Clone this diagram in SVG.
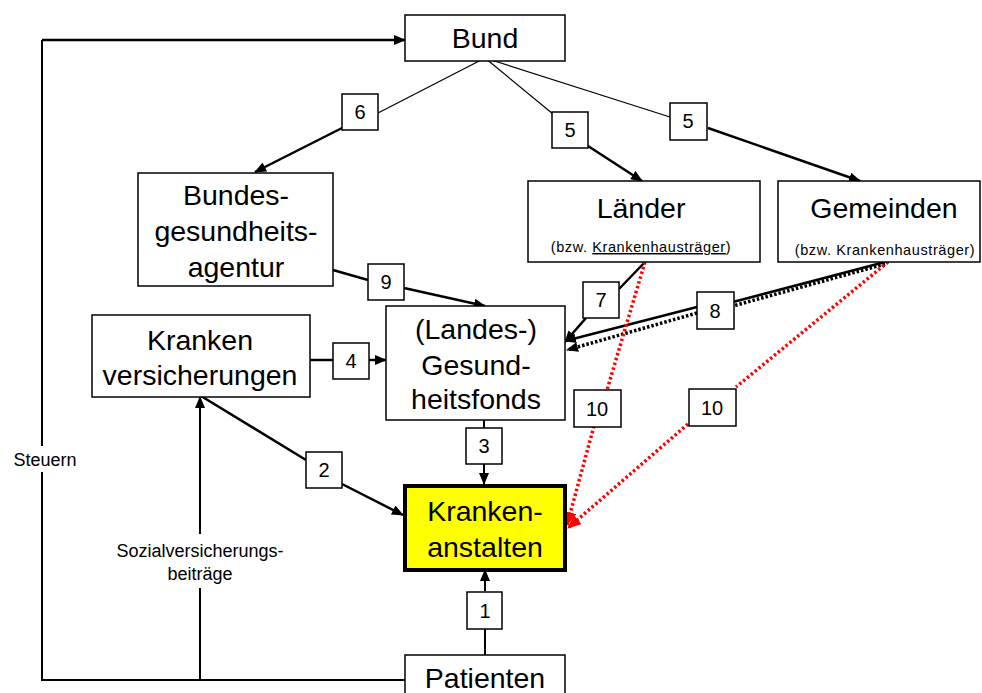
<svg xmlns="http://www.w3.org/2000/svg" width="982" height="693" viewBox="0 0 982 693">
<style>
.box{fill:#fff;stroke:#000;stroke-width:1.5}
.lbl{fill:#fff;stroke:#000;stroke-width:1.5}
.t{font-family:"Liberation Sans",Arial,sans-serif;font-size:28.5px;text-anchor:middle;fill:#000}
.n{font-family:"Liberation Sans",Arial,sans-serif;font-size:20px;text-anchor:middle;fill:#000}
.s{font-family:"Liberation Sans",Arial,sans-serif;font-size:14.5px;letter-spacing:0.6px;text-anchor:middle;fill:#000}
.m{font-family:"Liberation Sans",Arial,sans-serif;font-size:18px;text-anchor:middle;fill:#000}
.thin{fill:none;stroke:#000;stroke-width:1.2}
.thick{fill:none;stroke:#000;stroke-width:2.5}
.blk{fill:none;stroke:#000;stroke-width:2}
.dotk{fill:none;stroke:#000;stroke-width:3.5;stroke-dasharray:2.5 2}
.dotr{fill:none;stroke:#f00;stroke-width:3.5;stroke-dasharray:2.5 2.5}
</style>
<defs>
<marker id="ah" markerWidth="12" markerHeight="10" refX="11" refY="5" orient="auto" markerUnits="userSpaceOnUse"><path d="M0,0 L12,5 L0,10 z" fill="#000"/></marker>
<marker id="ahr" markerWidth="14" markerHeight="12" refX="13" refY="6" orient="auto" markerUnits="userSpaceOnUse"><path d="M0,0 L14,6 L0,12 z" fill="#f00"/></marker>
</defs>
<rect width="982" height="693" fill="#fff"/>
<g id="connectors">
<polyline class="blk" points="405,680 42,680 42,40"/>
<line class="thick" x1="42" y1="40" x2="405" y2="40" marker-end="url(#ah)"/>
<rect x="8" y="446" width="74" height="26" fill="#fff"/>
<text class="m" x="45" y="466">Steuern</text>
<line class="blk" x1="200" y1="680" x2="200" y2="397" marker-end="url(#ah)"/>
<rect x="108" y="534" width="184" height="54" fill="#fff"/>
<text class="m" x="200" y="557">Sozialversicherungs-</text>
<text class="m" x="200" y="580">beiträge</text>
<line class="thin" x1="485" y1="58" x2="378" y2="113"/>
<line class="thick" x1="342" y1="128" x2="255" y2="172" marker-end="url(#ah)"/>
<line class="thin" x1="485" y1="58" x2="553" y2="114"/>
<line class="thick" x1="588" y1="146" x2="642" y2="181" marker-end="url(#ah)"/>
<line class="thin" x1="485" y1="58" x2="670" y2="117"/>
<line class="thick" x1="708" y1="128" x2="860" y2="181" marker-end="url(#ah)"/>
<line class="thick" x1="333" y1="270" x2="368" y2="280"/>
<line class="thick" x1="404" y1="288" x2="485" y2="306" marker-end="url(#ah)"/>
<line class="thick" x1="310" y1="360" x2="333" y2="360"/>
<line class="thick" x1="369" y1="360" x2="386" y2="360" marker-end="url(#ah)"/>
<line class="thick" x1="645" y1="262" x2="619" y2="289"/>
<line class="thick" x1="586" y1="318" x2="565" y2="342" marker-end="url(#ah)"/>
<line class="thick" x1="885" y1="262" x2="733" y2="302"/>
<line class="dotk" x1="885" y1="264" x2="733" y2="306"/>
<line class="thick" x1="697" y1="307" x2="565" y2="341" marker-end="url(#ah)"/>
<line class="dotk" x1="697" y1="313" x2="567" y2="350" marker-end="url(#ah)"/>
<line class="dotr" x1="645" y1="262" x2="607" y2="390"/>
<line class="dotr" x1="594" y1="426" x2="567" y2="525" marker-end="url(#ahr)"/>
<line class="dotr" x1="888" y1="262" x2="736" y2="387"/>
<line class="dotr" x1="688" y1="424" x2="568" y2="528" marker-end="url(#ahr)"/>
<line class="blk" x1="484" y1="420" x2="484" y2="428"/>
<line class="blk" x1="484" y1="464" x2="484" y2="484" marker-end="url(#ah)"/>
<line class="thick" x1="201" y1="396" x2="306" y2="460"/>
<line class="thick" x1="342" y1="484" x2="403" y2="515" marker-end="url(#ah)"/>
<line class="blk" x1="485" y1="655" x2="485" y2="628"/>
<line class="blk" x1="485" y1="591" x2="485" y2="570" marker-end="url(#ah)"/>
</g>
<g id="bund"><rect class="box" x="405" y="15" width="160" height="46"/><text class="t" x="485" y="48">Bund</text></g>
<g id="bga"><rect class="box" x="138" y="173" width="195" height="113"/><text class="t" x="236" y="205">Bundes-</text><text class="t" x="236" y="241">gesundheits-</text><text class="t" x="236" y="277">agentur</text></g>
<g id="laender"><rect class="box" x="528" y="181" width="232" height="81"/><text class="t" x="641" y="218">Länder</text><text class="s" x="641" y="252">(bzw. <tspan text-decoration="underline">Krankenhausträger</tspan>)</text></g>
<g id="gemeinden"><rect class="box" x="778" y="181" width="202" height="81"/><text class="t" x="884" y="218">Gemeinden</text><text class="s" x="885" y="255">(bzw. Krankenhausträger)</text></g>
<g id="kv"><rect class="box" x="92" y="315" width="218" height="82"/><text class="t" x="200" y="350">Kranken</text><text class="t" x="200" y="385">versicherungen</text></g>
<g id="fonds"><rect class="box" x="386" y="306" width="179" height="114"/><text class="t" x="476" y="339">(Landes-)</text><text class="t" x="476" y="375">Gesund-</text><text class="t" x="476" y="409">heitsfonds</text></g>
<g id="ka"><rect x="405" y="486" width="160" height="84" fill="#ff0" stroke="#000" stroke-width="4"/><text class="t" x="485" y="521">Kranken-</text><text class="t" x="485" y="557">anstalten</text></g>
<g id="patienten"><rect class="box" x="405" y="655" width="160" height="45"/><text class="t" x="485" y="688">Patienten</text></g>
<g id="labels">
<rect class="lbl" x="342" y="94" width="36" height="36"/><text class="n" x="360" y="119">6</text>
<rect class="lbl" x="552" y="112" width="36" height="36"/><text class="n" x="570" y="137">5</text>
<rect class="lbl" x="670" y="103" width="37" height="37"/><text class="n" x="688" y="128">5</text>
<rect class="lbl" x="368" y="264" width="36" height="36"/><text class="n" x="386" y="289">9</text>
<rect class="lbl" x="333" y="343" width="36" height="36"/><text class="n" x="351" y="368">4</text>
<rect class="lbl" x="583" y="282" width="36" height="36"/><text class="n" x="601" y="307">7</text>
<rect class="lbl" x="697" y="292" width="37" height="37"/><text class="n" x="715" y="318">8</text>
<rect class="lbl" x="574" y="390" width="47" height="37"/><text class="n" x="597" y="416">10</text>
<rect class="lbl" x="689" y="389" width="47" height="37"/><text class="n" x="712" y="415">10</text>
<rect class="lbl" x="466" y="428" width="36" height="36"/><text class="n" x="484" y="453">3</text>
<rect class="lbl" x="306" y="452" width="36" height="36"/><text class="n" x="324" y="477">2</text>
<rect class="lbl" x="467" y="592" width="35" height="37"/><text class="n" x="485" y="618">1</text>
</g>
</svg>
